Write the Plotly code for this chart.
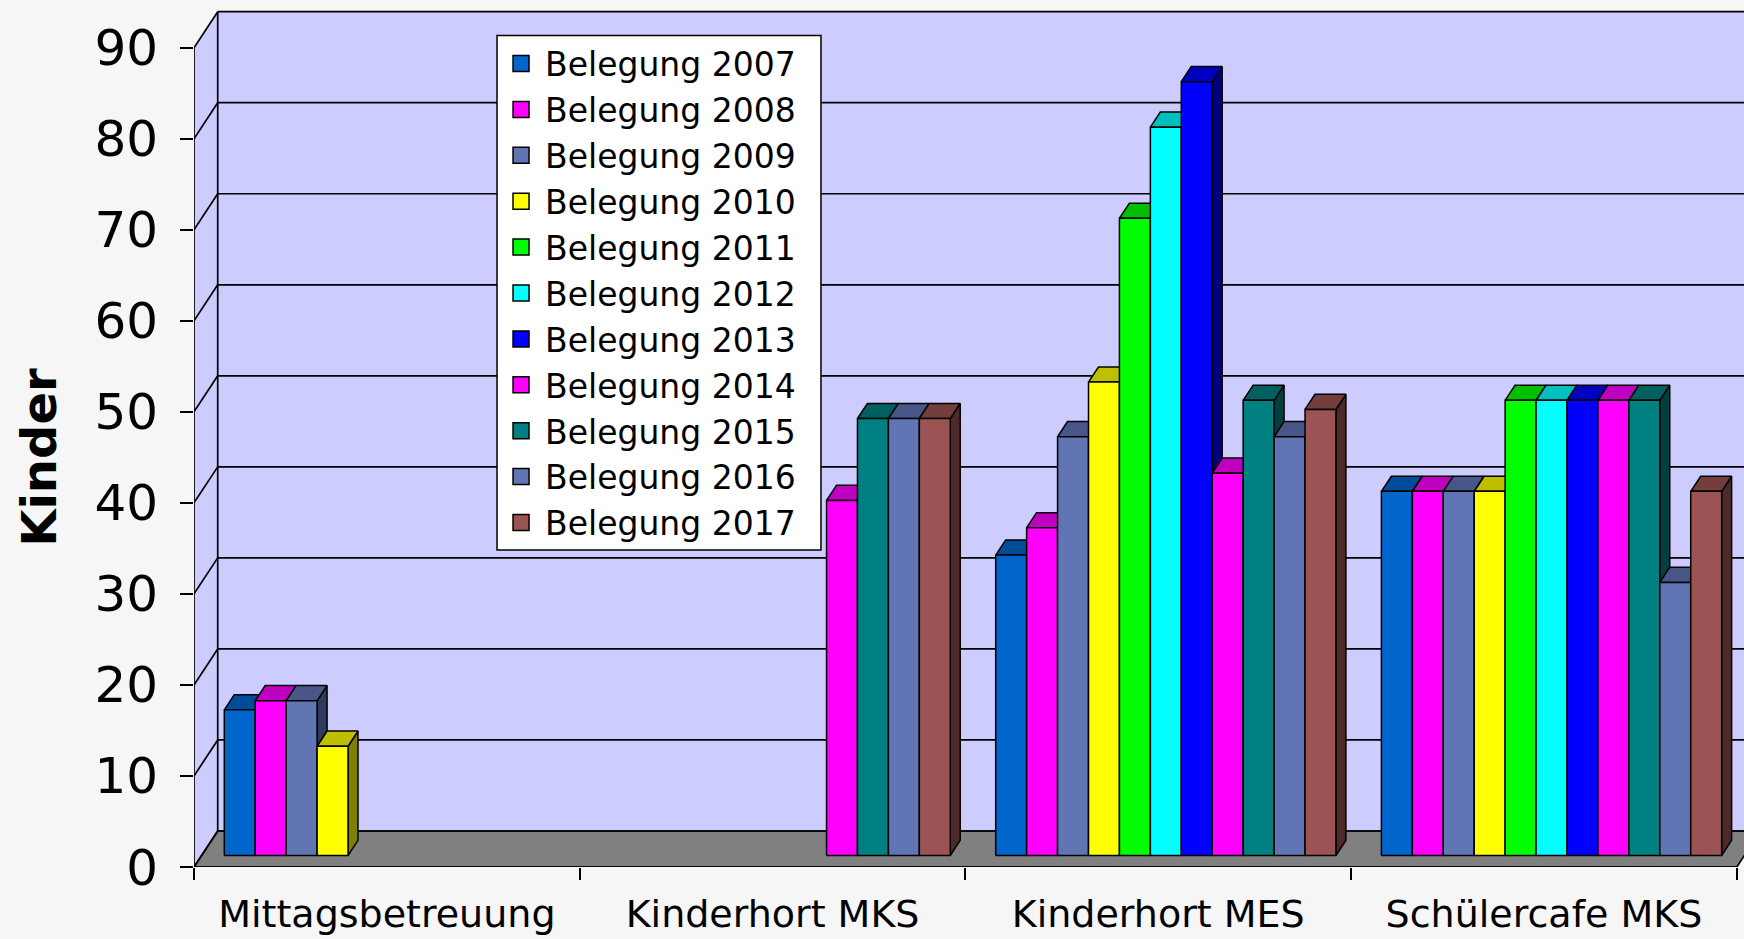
import plotly.graph_objects as go

# Belegung (Kinder) je Einrichtung und Jahr
categories = ["Mittagsbetreuung", "Kinderhort MKS", "Kinderhort MES", "Schülercafe MKS"]
years = [2007, 2008, 2009, 2010, 2011, 2012, 2013, 2014, 2015, 2016, 2017]

belegung_2007 = [16, None, 33, 40]
belegung_2008 = [17, None, 36, 40]
belegung_2009 = [17, None, 46, 40]
belegung_2010 = [12, None, 52, 40]
belegung_2011 = [None, None, 70, 50]
belegung_2012 = [None, None, 80, 50]
belegung_2013 = [None, None, 85, 50]
belegung_2014 = [None, 39, 42, 50]
belegung_2015 = [None, 48, 50, 50]
belegung_2016 = [None, 48, 46, 30]
belegung_2017 = [None, 48, 49, 40]

series = [belegung_2007, belegung_2008, belegung_2009, belegung_2010, belegung_2011,
          belegung_2012, belegung_2013, belegung_2014, belegung_2015, belegung_2016,
          belegung_2017]

colors = ["#0066CC", "#FF00FF", "#6174B4", "#FFFF00", "#00FF00", "#00FFFF",
          "#0000FF", "#FF00FF", "#008080", "#6174B4", "#9C5353"]

y_ticks = [0, 10, 20, 30, 40, 50, 60, 70, 80, 90]

FONT = "DejaVu Sans, Open Sans, sans-serif"

# fake 3d geometry (axis units)
X_MIN, X_MAX = -0.5, 3.5187
Y_MAX = 95.24
DX, DY = 0.0615, 3.956        # depth of the walls
BAR_F = 0.32                  # where the bar front sits inside the depth
BDX, BDY = 0.0258, 1.66       # depth of one bar
BAR_W = 0.0802
GAP = (1 - len(years) * BAR_W) / 2


def shade(hex_color, k):
    r, g, b = (int(hex_color[i:i + 2], 16) for i in (1, 3, 5))
    return "rgb(%d,%d,%d)" % (r * k, g * k, b * k)


def poly(xs, ys, fill):
    return go.Scatter(x=xs + xs[:1], y=ys + ys[:1], mode="lines", fill="toself",
                      fillcolor=fill, line=dict(color="black", width=1.5),
                      hoverinfo="skip", showlegend=False)


fig = go.Figure()

# bars, left to right so the next bar hides the side of the previous one
for c in range(len(categories)):
    for s, vals in enumerate(series):
        v = vals[c]
        if v is None:
            continue
        x0 = c - 0.5 + BAR_F * DX + GAP + s * BAR_W
        x1 = x0 + BAR_W
        y0 = BAR_F * DY
        y1 = y0 + v
        col = colors[s]
        fig.add_trace(poly([x1, x1 + BDX, x1 + BDX, x1], [y0, y0 + BDY, y1 + BDY, y1], shade(col, 0.5)))
        fig.add_trace(poly([x0, x1, x1 + BDX, x0 + BDX], [y1, y1, y1 + BDY, y1 + BDY], shade(col, 0.75)))
        fig.add_trace(poly([x0, x1, x1, x0], [y0, y0, y1, y1], col))

# legend entries
for yr, col in zip(years, colors):
    fig.add_trace(go.Scatter(x=[None], y=[None], mode="markers", name="Belegung %d" % yr,
                             marker=dict(symbol="square", size=22, color=col,
                                         line=dict(color="black", width=1.5))))

# walls, floor and gridlines
wall = "#CCCCFF"
line = dict(color="black", width=1.7)
shapes = []
shapes.append(dict(type="rect", x0=X_MIN + DX, x1=X_MAX + 1, y0=DY, y1=90 + DY,
                   fillcolor=wall, line=dict(width=0), layer="below"))
shapes.append(dict(type="path", path="M %f,0 L %f,%f L %f,%f L %f,90 Z" % (
    X_MIN, X_MIN + DX, DY, X_MIN + DX, 90 + DY, X_MIN),
    fillcolor=wall, line=dict(width=0), layer="below"))
shapes.append(dict(type="path", path="M %f,0 L 3.5,0 L %f,%f L %f,%f Z" % (
    X_MIN, 3.5 + DX, DY, X_MIN + DX, DY),
    fillcolor="#808080", line=line, layer="below"))
for t in y_ticks:
    shapes.append(dict(type="line", x0=X_MIN + DX, x1=X_MAX + 1, y0=t + DY, y1=t + DY,
                       line=line, layer="below"))
    shapes.append(dict(type="line", x0=X_MIN, x1=X_MIN + DX, y0=t, y1=t + DY,
                       line=line, layer="below"))
shapes.append(dict(type="line", x0=X_MIN + DX, x1=X_MIN + DX, y0=DY, y1=90 + DY,
                   line=line, layer="below"))
shapes.append(dict(type="line", x0=X_MIN, x1=X_MIN, y0=0, y1=90, line=line, layer="below"))
shapes.append(dict(type="line", x0=X_MIN, x1=3.5, y0=0, y1=0, line=line, layer="below"))
# legend frame (a bit wider than plotly's own box)
shapes.append(dict(type="rect", xref="paper", yref="paper", x0=0.1955, x1=0.4045,
                   y0=0.3655, y1=0.959, fillcolor="white",
                   line=dict(color="black", width=1.5), layer="above"))

fig.update_layout(
    width=1744, height=939,
    margin=dict(l=194, r=0, t=0, b=72),
    paper_bgcolor="#F6F6F6", plot_bgcolor="#F6F6F6",
    font=dict(family=FONT, color="black"),
    shapes=shapes,
    showlegend=True,
    legend=dict(x=0.1955, y=0.959, xanchor="left", yanchor="top",
                bgcolor="rgba(0,0,0,0)", borderwidth=0,
                font=dict(size=33, family=FONT), tracegroupgap=0, itemwidth=38),
    xaxis=dict(range=[X_MIN, X_MAX], tickvals=[0, 1, 2, 3], ticktext=categories,
               ticks="", showgrid=False, zeroline=False, showline=False,
               tickfont=dict(size=38), fixedrange=True, ticklabelstandoff=21,
               minor=dict(tickvals=[-0.5, 0.5, 1.5, 2.5, 3.5], ticks="outside",
                          ticklen=12, tickwidth=1.5, tickcolor="black", showgrid=False)),
    yaxis=dict(range=[0, Y_MAX], tickvals=y_ticks, ticks="outside", ticklen=13,
               tickwidth=1.5, tickcolor="black", showgrid=False, zeroline=False,
               showline=False, tickfont=dict(size=50), ticklabelstandoff=12,
               fixedrange=True),
    annotations=[dict(text="<b>Kinder</b>", textangle=-90, xref="paper", yref="paper",
                      x=0, y=0.472, xshift=-155, xanchor="center", yanchor="middle",
                      showarrow=False, font=dict(size=48, family=FONT))],
)

fig.write_html("out.html", config={"displayModeBar": False},
               post_script="document.body.style.margin='0';")
